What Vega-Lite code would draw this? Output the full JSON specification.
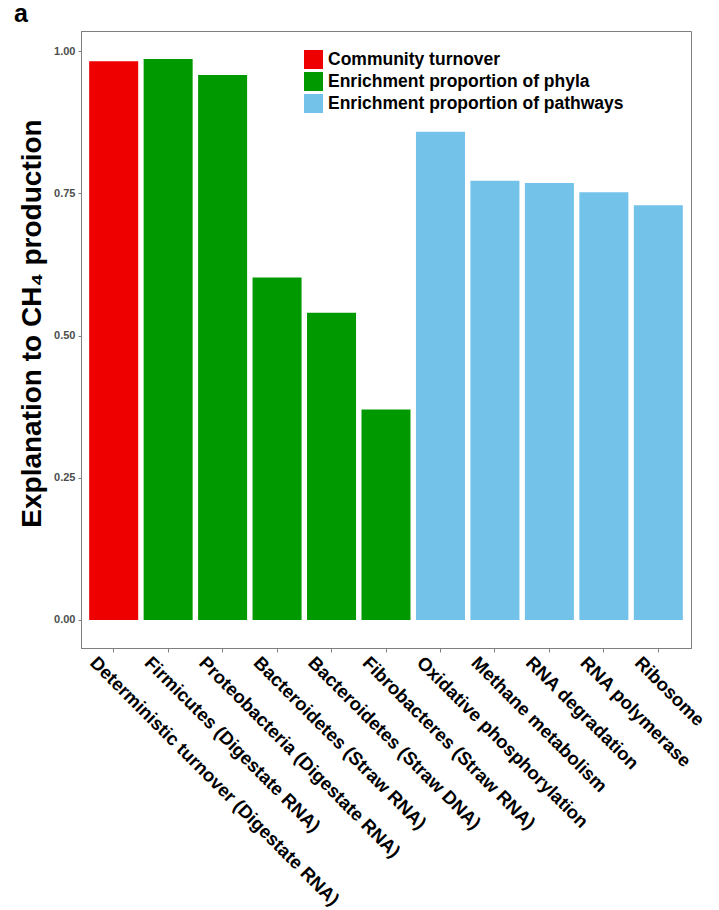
{
  "$schema": "https://vega.github.io/schema/vega-lite/v6.json",
  "width": 610,
  "height": 617,
  "autosize": {"type": "none"},
  "padding": {"left": 81, "top": 31, "right": 28, "bottom": 262},
  "background": "white",
  "title": {"text": "a", "anchor": "start", "frame": "group", "fontSize": 25, "fontWeight": "bold", "font": "Liberation Sans", "dx": -67, "offset": 4, "color": "black"},
  "data": {
    "values": [
      {"item": "Deterministic turnover (Digestate RNA)", "value": 0.982, "group": "Community turnover"},
      {"item": "Firmicutes (Digestate RNA)", "value": 0.986, "group": "Enrichment proportion of phyla"},
      {"item": "Proteobacteria (Digestate RNA)", "value": 0.958, "group": "Enrichment proportion of phyla"},
      {"item": "Bacteroidetes (Straw RNA)", "value": 0.602, "group": "Enrichment proportion of phyla"},
      {"item": "Bacteroidetes (Straw DNA)", "value": 0.540, "group": "Enrichment proportion of phyla"},
      {"item": "Fibrobacteres (Straw RNA)", "value": 0.370, "group": "Enrichment proportion of phyla"},
      {"item": "Oxidative phosphorylation", "value": 0.858, "group": "Enrichment proportion of pathways"},
      {"item": "Methane metabolism", "value": 0.772, "group": "Enrichment proportion of pathways"},
      {"item": "RNA degradation", "value": 0.768, "group": "Enrichment proportion of pathways"},
      {"item": "RNA polymerase", "value": 0.752, "group": "Enrichment proportion of pathways"},
      {"item": "Ribosome", "value": 0.729, "group": "Enrichment proportion of pathways"}
    ]
  },
  "mark": {"type": "bar"},
  "encoding": {
    "x": {
      "field": "item", "type": "nominal", "sort": null,
      "scale": {"paddingInner": 0.1, "paddingOuter": 0.15},
      "axis": {
        "title": null, "labelAngle": 45, "labelAlign": "left", "labelBaseline": "top",
        "labelFont": "Liberation Sans", "labelFontSize": 18.5, "labelFontWeight": "bold", "labelColor": "black",
        "labelPadding": 1, "labelOffset": -14, "labelLimit": 0, "labelOverlap": false,
        "tickColor": "#7f7f7f", "tickSize": 4, "domainColor": "#7f7f7f", "domainWidth": 1
      }
    },
    "y": {
      "field": "value", "type": "quantitative",
      "scale": {"domain": [-0.0493, 1.0353], "nice": false, "zero": false},
      "axis": {
        "title": "Explanation to CH₄ production", "values": [0, 0.25, 0.5, 0.75, 1], "format": ".2f",
        "grid": false, "labelFont": "Liberation Sans", "labelFontSize": 11, "labelFontWeight": "bold", "labelColor": "#4d4d4d",
        "labelPadding": 3, "tickColor": "#7f7f7f", "tickSize": 3, "domainColor": "#7f7f7f",
        "titleFont": "Liberation Sans", "titleFontSize": 28, "titleFontWeight": "bold", "titleColor": "black", "titlePadding": 7,
        "titleY": 292
      }
    },
    "color": {
      "field": "group", "type": "nominal",
      "scale": {
        "domain": ["Community turnover", "Enrichment proportion of phyla", "Enrichment proportion of pathways"],
        "range": ["#EE0000", "#009A00", "#73C2EA"]
      },
      "legend": {
        "title": null, "orient": "none", "legendX": 223, "legendY": 19, "direction": "vertical",
        "symbolType": "square", "symbolSize": 361, "symbolStrokeWidth": 0, "symbolOpacity": 1,
        "labelFont": "Liberation Sans", "labelFontSize": 17.5, "labelFontWeight": "bold", "labelColor": "black",
        "labelOffset": 5, "rowPadding": 3, "padding": 0, "labelLimit": 0
      }
    }
  },
  "config": {"view": {"stroke": "#7f7f7f", "strokeWidth": 1}}
}
